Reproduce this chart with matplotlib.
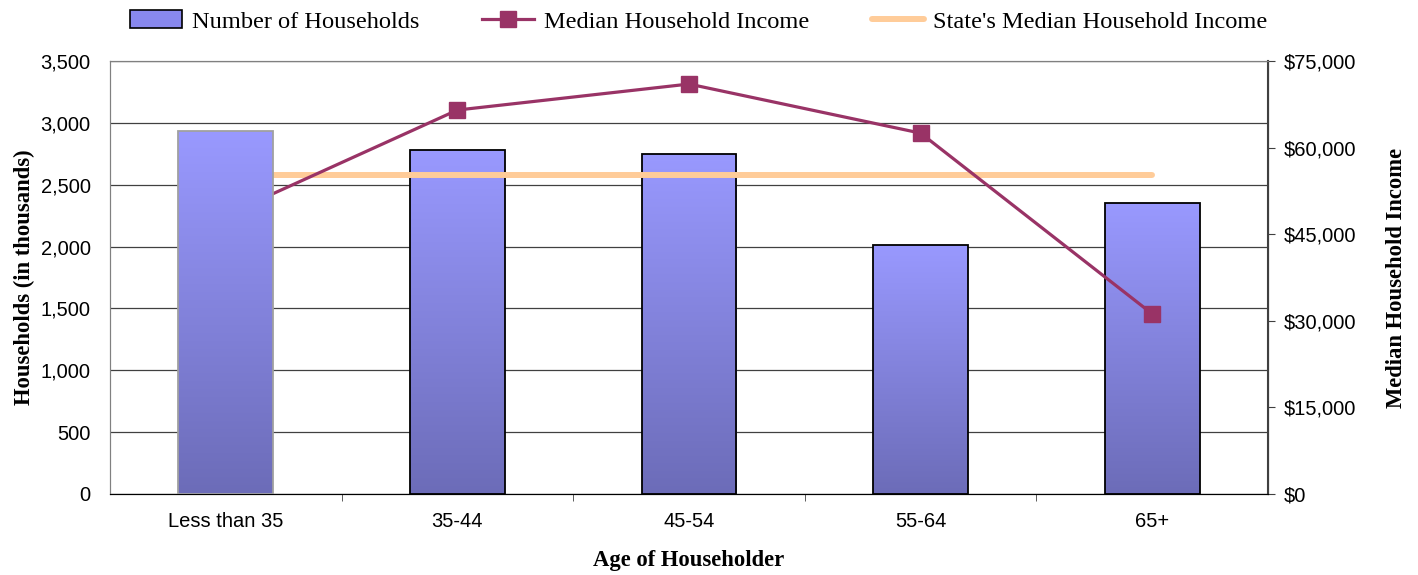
import numpy as np
import matplotlib
matplotlib.use("Agg")
import matplotlib.pyplot as plt
from matplotlib.patches import Rectangle
from matplotlib.lines import Line2D
from matplotlib.colors import LinearSegmentedColormap
from matplotlib.ticker import FuncFormatter

# data
age_groups = ["Less than 35", "35-44", "45-54", "55-64", "65+"]
households = [2932, 2778, 2750, 2015, 2355]          # thousands
median_income = [48300, 66500, 71000, 62500, 31200]  # dollars
state_median = [55300, 55300, 55300, 55300, 55300]

BAR_W = 0.41
LINE_COL = "#993366"
STATE_COL = "#FFCC99"
SERIF = "Liberation Serif"
SANS = "Liberation Sans"
TICK_FS = 14.5

fig = plt.figure(figsize=(14.18, 5.75), dpi=100)
ax = fig.add_axes([0.0776, 0.1409, 0.8166, 0.7531])
ax2 = ax.twinx()

cmap = LinearSegmentedColormap.from_list("bar", ["#6C6CB8", "#9999FF"])
grad = np.linspace(0, 1, 256).reshape(-1, 1)


def grad_bar(target, x, h, edge, z):
    # gradient-filled bar, always in primary-axis data coords
    rect = Rectangle((x - BAR_W / 2, 0), BAR_W, h, transform=ax.transData,
                     facecolor="none", edgecolor=edge, lw=1.3, zorder=z + 0.1)
    target.add_patch(rect)
    im = target.imshow(grad, cmap=cmap, origin="lower", aspect="auto",
                       extent=[x - BAR_W / 2, x + BAR_W / 2, 0, h],
                       transform=ax.transData, zorder=z, interpolation="bilinear")
    im.set_clip_path(rect)


xs = np.arange(len(age_groups))
for i in range(1, len(xs)):
    grad_bar(ax, xs[i], households[i], "black", 2)

# lines on the income axis
ax2.plot(xs, state_median, color=STATE_COL, lw=4.3, solid_capstyle="round", zorder=2)
ax2.plot(xs, median_income, color=LINE_COL, lw=2.3, marker="s", markersize=12,
         zorder=3)
# first bar sits on top of the lines in the original
grad_bar(ax2, xs[0], households[0], "#A0A0A0", 5)

ax.set_xlim(-0.5, len(xs) - 0.5)
ax.set_ylim(0, 3500)
ax2.set_ylim(0, 75000)
ax.set_yticks(np.arange(0, 3501, 500))
ax2.set_yticks(np.arange(0, 75001, 15000))
ax.yaxis.set_major_formatter(FuncFormatter(lambda v, p: f"{int(v):,}"))
ax2.yaxis.set_major_formatter(FuncFormatter(lambda v, p: f"${int(v):,}"))

ax.set_xticks(xs)
ax.set_xticklabels(age_groups, fontfamily=SANS, fontsize=TICK_FS)
ax.set_xticks(np.arange(0.5, len(xs) - 0.5, 1), minor=True)
ax.tick_params(axis="x", which="major", length=0, pad=13)
ax.tick_params(axis="x", which="minor", length=5, color="#404040")
ax.tick_params(axis="y", length=0, labelsize=TICK_FS, pad=14)
ax2.tick_params(axis="y", length=5, color="#404040", labelsize=TICK_FS, pad=6)
for lab in ax.get_yticklabels() + ax2.get_yticklabels():
    lab.set_fontfamily(SANS)

ax.grid(axis="y", color="#404040", lw=0.9)
ax.set_axisbelow(True)
for sp in ["top", "left"]:
    ax.spines[sp].set_color("#808080")
    ax2.spines[sp].set_color("#808080")
ax.spines["bottom"].set_color("#202020")
ax2.spines["right"].set_color("#404040")
ax2.spines["right"].set_linewidth(1.5)

ax.set_ylabel("Households (in thousands)", fontfamily=SERIF, fontweight="bold",
              fontsize=16.3, labelpad=4)
ax2.set_ylabel("Median Household Income", fontfamily=SERIF, fontweight="bold",
               fontsize=16.3, labelpad=22)
ax.set_xlabel("Age of Householder", fontfamily=SERIF, fontweight="bold",
              fontsize=16.3, labelpad=14)

handles = [
    Rectangle((0, 0), 1, 1, facecolor="#8888EE", edgecolor="black", lw=1.2),
    Line2D([], [], color=LINE_COL, lw=2.3, marker="s", markersize=11),
    Line2D([], [], color=STATE_COL, lw=4.3, solid_capstyle="round"),
]
labels = ["Number of Households", "Median Household Income",
          "State's Median Household Income"]
fig.legend(handles, labels, loc="upper center", bbox_to_anchor=(0.493, 1.02),
           ncol=3, frameon=False, prop={"family": SERIF, "size": 17.6},
           handlelength=2.1, handletextpad=0.4, columnspacing=2.6)

fig.savefig("out.png", dpi=100)
